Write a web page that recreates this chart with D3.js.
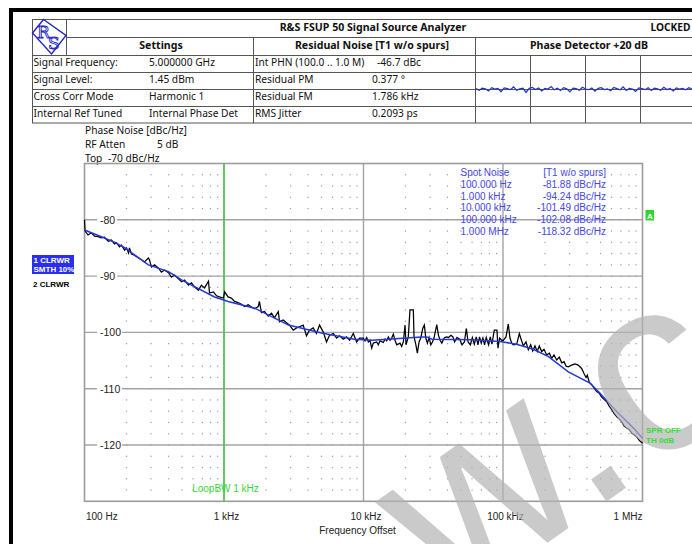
<!DOCTYPE html>
<html><head><meta charset="utf-8">
<script src="https://cdn.jsdelivr.net/npm/d3@7/dist/d3.min.js"></script>
<style>body{margin:0;background:#fff}svg{display:block}</style>
</head><body>
<script>
// ---------------- data ----------------
const freqTicks = [100, 1000, 10000, 100000, 1000000];
const freqTickLabels = ["100 Hz", "1 kHz", "10 kHz", "100 kHz", "1 MHz"];
const levelTicks = [-80, -90, -100, -110, -120];
const levelDomain = [-70, -130];

const settingsRows = [
  ["Signal Frequency:", "5.000000 GHz"],
  ["Signal Level:", "1.45 dBm"],
  ["Cross Corr Mode", "Harmonic 1"],
  ["Internal Ref Tuned", "Internal Phase Det"]
];
const residualRows = [
  ["Int PHN (100.0  ..  1.0 M)", "-46.7 dBc"],
  ["Residual PM", "0.377 \u00b0"],
  ["Residual FM", "1.786 kHz"],
  ["RMS Jitter", "0.2093 ps"]
];
const spotFreqLabels = ["100.000 Hz", "1.000 kHz", "10.000 kHz", "100.000 kHz", "1.000 MHz"];
const spotValues = [-81.88, -94.24, -101.49, -102.08, -118.32];

// trace 1 (black, raw) : [offset frequency Hz, dBc/Hz]
const traceRaw = [
 [100,-80.0],[101,-82.0],[106,-82.7],[112,-82.3],[118,-82.9],[125,-83.0],[132,-83.2],[139,-83.1],[148,-83.8],[156,-83.6],
 [164,-84.3],[170,-84.1],[178,-84.8],[184,-84.5],[194,-85.4],[200,-85.0],[207,-85.9],[210,-85.0],[217,-86.1],[228,-86.3],
 [244,-86.8],[256,-87.1],[269,-87.5],[287,-86.8],[292,-87.1],[302,-88.4],[318,-88.0],[339,-88.6],[356,-89.3],[374,-88.9],
 [400,-89.4],[420,-90.2],[442,-89.8],[472,-90.5],[496,-91.0],[521,-90.7],[556,-91.6],[585,-91.2],[614,-91.9],[656,-92.5],
 [689,-91.6],[725,-92.1],[774,-90.9],[787,-93.0],[840,-92.8],[884,-93.5],[928,-93.7],[990,-93.9],
 [1010,-92.8],[1070,-93.7],[1130,-93.9],[1190,-94.5],[1260,-94.7],[1335,-95.0],[1400,-95.4],[1490,-95.1],[1575,-95.5],[1655,-95.8],
 [1760,-95.4],[1795,-94.5],[1855,-96.5],[1950,-96.3],[2075,-97.1],[2190,-96.6],[2300,-97.4],[2450,-96.3],[2500,-98.1],[2655,-97.8],
 [2805,-98.3],[2950,-98.7],[3135,-99.6],[3310,-99.2],[3475,-99.0],[3695,-98.7],[3905,-100.6],[4100,-99.6],[4360,-99.2],[4600,-100.2],
 [4840,-98.7],[5140,-99.9],[5430,-101.7],[5710,-100.5],[6080,-100.2],[6420,-101.0],[6740,-100.6],[7160,-101.2],[7560,-100.8],[7950,-101.4],
 [8450,-100.2],[8930,-101.7],[9370,-101.0],
 [9970,-101.0],[10250,-101.5],[10540,-100.9],[10830,-101.7],[11130,-101.4],[11450,-102.8],[11760,-101.9],[12430,-101.7],[12770,-102.2],[13130,-101.5],
 [13870,-101.8],[14270,-101.2],[14670,-101.5],[15070,-100.8],[15490,-101.4],[15930,-101.0],[16360,-100.3],[16820,-101.4],[17300,-102.2],[18270,-101.9],
 [18790,-102.5],[19300,-101.7],[19850,-98.7],[20170,-102.2],[20950,-100.8],[21540,-96.0],[22760,-96.0],[23030,-100.8],[23690,-102.1],[24330,-103.7],
 [25020,-101.7],[25730,-101.0],[26580,-99.3],[27310,-98.7],[27960,-101.0],[28720,-101.9],[29540,-100.9],[30380,-102.2],[31210,-101.7],[32010,-101.0],
 [33510,-98.6],[34440,-100.5],[35410,-101.4],[36420,-101.9],[37880,-101.0],[39160,-100.8],[40690,-100.9],[42330,-100.5],[43760,-100.8],[44960,-101.7],
 [46820,-100.9],[48890,-101.2],[50860,-102.2],[52860,-101.7],[54620,-99.3],[56190,-101.7],[58330,-102.2],[60280,-100.9],[62280,-102.1],[64340,-100.8],
 [66150,-102.2],[67910,-100.8],[69820,-101.9],[71780,-101.0],[73760,-102.2],[75830,-100.9],[78820,-102.2],[81050,-100.8],[83340,-102.1],[86590,-99.6],
 [90540,-99.6],[92030,-102.8],[94580,-101.0],[97880,-101.4],
 [100500,-101.4],[105100,-100.8],[109100,-98.5],[112200,-101.0],[115400,-101.9],[118500,-102.2],[125400,-102.1],[130900,-100.2],[133900,-101.0],[139900,-102.4],
 [146200,-101.7],[151900,-103.1],[158000,-102.2],[163300,-103.3],[169500,-102.4],[176100,-103.4],[182000,-102.4],[189500,-103.4],[196800,-103.0],[205600,-104.0],
 [214700,-103.7],[223600,-104.6],[232000,-104.0],[242700,-104.9],[253300,-104.4],[263500,-105.4],[273800,-105.2],[283300,-106.0],[293900,-106.1],[310500,-105.8],
 [328100,-105.6],[346100,-105.8],[366100,-106.4],[380700,-107.3],[394000,-108.0],[402000,-107.6],[415700,-108.9],[432600,-109.3],[449600,-109.9],[469800,-110.5],
 [489200,-110.8],[510000,-111.5],[529800,-111.9],[553800,-112.3],[577800,-113.1],[602000,-113.7],[625100,-114.4],[654600,-115.0],[683100,-115.4],[710800,-115.9],
 [737400,-116.6],[771200,-117.0],[806000,-117.3],[838100,-117.9],[870500,-118.2],[910800,-118.6],[951000,-119.2],[1000000,-119.7]
];

// trace 1 smoothed (blue, SMTH 10%)
const traceSmooth = [
 [100,-81.8],[132,-83.0],[165,-84.0],[195,-85.0],[287,-88.0],[400,-89.2],[500,-90.7],[855,-93.7],[960,-94.1],[1070,-94.5],
 [1660,-95.7],[2900,-98.7],[5000,-100.1],[8600,-101.2],[11500,-101.4],[18000,-101.1],[26000,-100.8],[28500,-100.8],[31000,-101.2],[60000,-101.3],
 [95000,-101.6],[125000,-102.1],[165000,-103.0],[212000,-104.3],[294000,-107.0],[420000,-109.0],[496000,-110.8],[655000,-114.1],[862000,-117.0],[1000000,-118.8]
];

// phase detector mini display (relative deviation)
const phaseDet = [0.03,-0.07,0.05,0.01,-0.12,0.08,0.00,0.04,-0.16,0.06,0.02,-0.04,0.12,-0.08,0.01,0.05,-0.2,0.04,0.09,-0.03,
 0.06,-0.12,0.03,0.00,0.14,-0.05,0.04,-0.09,0.08,0.01,-0.17,0.05,0.02,-0.07,0.1,0.00,-0.04,0.06,-0.13,0.04,
 0.08,-0.03,0.01,-0.1,0.09,0.02,-0.05,0.12,-0.08,0.04,0.00,-0.14,0.06,0.02,-0.04,0.08,-0.09,0.05,0.01,-0.07,
 0.1,-0.03,0.04,-0.12,0.06,0.00,0.03,-0.05,0.08,-0.01];

const loopBW = 1000;

// ---------------- drawing ----------------
const W = 692, H = 544;
const HFONT = "'Noto Sans', 'DejaVu Sans', sans-serif";
const PFONT = "'Liberation Sans', Arial, sans-serif";
const svg = d3.select("body").append("svg").attr("width", W).attr("height", H);

// outer black frame
svg.append("rect").attr("x", 9).attr("y", 8).attr("width", W - 9).attr("height", 4).attr("fill", "#000");
svg.append("rect").attr("x", 9).attr("y", 8).attr("width", 4).attr("height", H - 8).attr("fill", "#000");

// header table
const hdr = svg.append("g").attr("stroke", "#555").attr("stroke-width", 1).attr("fill", "none");
hdr.append("rect").attr("x", 32.5).attr("y", 19.5).attr("width", 700).attr("height", 103.5);
[[66, 37, W], [32, 55, W], [32, 72, W], [32, 89, W], [32, 106, W]].forEach(([x1, y, x2]) =>
  hdr.append("line").attr("x1", x1).attr("x2", x2).attr("y1", y + 0.5).attr("y2", y + 0.5));
[[66, 19, 55], [253, 37, 123], [475, 37, 123], [530, 55, 123], [585, 55, 123], [640, 55, 123]].forEach(([x, y1, y2]) =>
  hdr.append("line").attr("x1", x + 0.5).attr("x2", x + 0.5).attr("y1", y1).attr("y2", y2));

// logo
const logo = svg.append("g");
logo.append("polygon").attr("points", "43.5,19.5 66,35.5 51.5,54 32.5,33").attr("fill", "none").attr("stroke", "#2424c8").attr("stroke-width", 1.4);
logo.append("text").attr("x", 37).attr("y", 38).text("R").attr("font-family", "'DejaVu Serif', serif").attr("font-size", 17).attr("fill", "none").attr("stroke", "#2424c8").attr("stroke-width", 0.9);
logo.append("text").attr("x", 48).attr("y", 49).text("S").attr("font-family", "'DejaVu Serif', serif").attr("font-size", 17).attr("fill", "none").attr("stroke", "#2424c8").attr("stroke-width", 0.9);

const ht = (x, y, s, o = {}) => svg.append("text").attr("x", x).attr("y", y).text(s)
  .attr("font-family", HFONT).attr("font-size", o.size || 10.2).attr("font-weight", o.bold ? "bold" : "normal")
  .attr("text-anchor", o.anchor || "start").attr("fill", o.fill || "#111");
ht(373, 30.5, "R&S FSUP 50 Signal Source Analyzer", {bold: true, anchor: "middle", size: 10.6});
ht(690.5, 30.5, "LOCKED", {bold: true, size: 10.2, anchor: "end"});
ht(161, 49, "Settings", {bold: true, anchor: "middle", size: 10.6});
ht(372, 49, "Residual Noise [T1 w/o spurs]", {bold: true, anchor: "middle", size: 10.6});
ht(589, 49, "Phase Detector +20 dB", {bold: true, anchor: "middle", size: 10.6});
const rowBase = [66, 83, 100, 117];
settingsRows.forEach((r, i) => { ht(33.5, rowBase[i], r[0]); ht(149, rowBase[i], r[1]); });
residualRows.forEach((r, i) => { ht(255, rowBase[i], r[0]); ht(i === 0 ? 377 : 372, rowBase[i], r[1]); });

// phase detector trace
const pdx = d3.scaleLinear().domain([0, phaseDet.length - 1]).range([476, 692]);
const pdy = d3.scaleLinear().domain([-1, 1]).range([106, 72]);
svg.append("path").datum(phaseDet).attr("fill", "none").attr("stroke", "#2233cc").attr("stroke-width", 1.2)
  .attr("d", d3.line().x((d, i) => pdx(i)).y(d => pdy(d)));

// texts above plot
ht(85, 134, "Phase Noise [dBc/Hz]");
ht(85, 148, "RF Atten");
ht(157, 148, "5 dB");
ht(85, 162, "Top");
ht(108, 162, "-70 dBc/Hz");

// plot scales
const x = d3.scaleLog().domain([freqTicks[0], freqTicks[freqTicks.length - 1]]).range([84.5, 642.5]);
const y = d3.scaleLinear().domain(levelDomain).range([163.5, 501.3]);
const plot = svg.append("g");

// minor dotted grid
const minorF = [];
freqTicks.slice(0, -1).forEach(d => { for (let k = 2; k <= 9; k++) minorF.push(d * k); });
const dotLevels = d3.range(levelDomain[0] - 2, levelDomain[1], -2);
const dots = [];
minorF.forEach(f => dotLevels.forEach(l => dots.push([f, l])));
plot.append("g").selectAll("rect").data(dots).join("rect")
  .attr("x", d => x(d[0]) - 0.6).attr("y", d => y(d[1]) - 0.6).attr("width", 1.2).attr("height", 1.2).attr("fill", "#9a9a9a");

// major grid
plot.append("g").selectAll("line").data(levelTicks).join("line")
  .attr("x1", x.range()[0]).attr("x2", x.range()[1]).attr("y1", d => y(d)).attr("y2", d => y(d))
  .attr("stroke", "#a3a3a3").attr("stroke-width", 1.4);
plot.append("g").selectAll("line").data(freqTicks.slice(1, -1)).join("line")
  .attr("x1", d => x(d)).attr("x2", d => x(d)).attr("y1", y.range()[0]).attr("y2", y.range()[1])
  .attr("stroke", "#a3a3a3").attr("stroke-width", 1.4);
plot.append("rect").attr("x", x.range()[0]).attr("y", y.range()[0])
  .attr("width", x.range()[1] - x.range()[0]).attr("height", y.range()[1] - y.range()[0])
  .attr("fill", "none").attr("stroke", "#9c9c9c").attr("stroke-width", 1.6);

// y labels with white background
const yl = plot.append("g").selectAll("g").data(levelTicks).join("g");
yl.append("rect").attr("x", 97).attr("y", d => y(d) - 5).attr("width", d => d <= -100 ? 25 : 20).attr("height", 10).attr("fill", "#fff");
yl.append("text").attr("x", 100).attr("y", d => y(d) + 3.8).text(d => d)
  .attr("font-family", PFONT).attr("font-size", 10.5).attr("fill", "#222");

// loop bandwidth line
plot.append("line").attr("x1", x(loopBW)).attr("x2", x(loopBW)).attr("y1", y.range()[0]).attr("y2", y.range()[1])
  .attr("stroke", "#33cc33").attr("stroke-width", 1.3);
plot.append("text").attr("x", x(loopBW) + 1.5).attr("y", 492).attr("text-anchor", "middle").text("LoopBW 1 kHz")
  .attr("font-family", PFONT).attr("font-size", 10).attr("fill", "#3ad33a");

// x tick labels
plot.append("g").selectAll("text").data(freqTicks).join("text")
  .attr("x", (d, i) => i === 0 ? x(d) + 1.5 : (i === freqTicks.length - 1 ? x(d) : x(d) + 2.5))
  .attr("y", 520)
  .attr("text-anchor", (d, i) => i === 0 ? "start" : (i === freqTicks.length - 1 ? "end" : "middle"))
  .text((d, i) => freqTickLabels[i])
  .attr("font-family", PFONT).attr("font-size", 10).attr("fill", "#222");
plot.append("text").attr("x", 357.5).attr("y", 534).attr("text-anchor", "middle").text("Frequency Offset")
  .attr("font-family", PFONT).attr("font-size", 10).attr("fill", "#222");

// spot noise table
const spotBase = [188, 199.7, 211.4, 223.1, 234.8];
const sc = "#4747e8";
plot.append("text").attr("x", 460.5).attr("y", 176).text("Spot Noise").attr("font-family", PFONT).attr("font-size", 10).attr("fill", sc);
plot.append("text").attr("x", 606).attr("y", 176).attr("text-anchor", "end").text("[T1 w/o spurs]").attr("font-family", PFONT).attr("font-size", 10).attr("fill", sc);
plot.append("g").selectAll("text").data(spotFreqLabels).join("text")
  .attr("x", 460.5).attr("y", (d, i) => spotBase[i]).text(d => d).attr("font-family", PFONT).attr("font-size", 10).attr("fill", sc);
plot.append("g").selectAll("text").data(spotValues).join("text")
  .attr("x", 606).attr("y", (d, i) => spotBase[i]).attr("text-anchor", "end").text(d => d.toFixed(2) + " dBc/Hz")
  .attr("font-family", PFONT).attr("font-size", 10).attr("fill", sc);

// watermark (light grey, semi-transparent)
svg.append("text").attr("x", 747).attr("y", 403).attr("transform", "rotate(-35,747,403)").attr("text-anchor", "end")
  .text("w.c").attr("font-family", PFONT).attr("font-size", 250)
  .attr("fill", "#b4b4b4").attr("opacity", 0.7);

// traces
const line = d3.line().x(d => x(d[0])).y(d => y(d[1]));
plot.append("path").datum(traceRaw).attr("fill", "none").attr("stroke", "#000").attr("stroke-width", 1.25).attr("d", line);
plot.append("path").datum(traceSmooth).attr("fill", "none").attr("stroke", "#2338d8").attr("stroke-width", 1.5).attr("d", line);

// trace labels left
svg.append("rect").attr("x", 32).attr("y", 255).attr("width", 42).attr("height", 19).attr("fill", "#2a2ef0");
svg.append("text").attr("x", 33.5).attr("y", 263).text("1 CLRWR").attr("font-family", PFONT).attr("font-weight", "bold").attr("font-size", 8).attr("fill", "#fff");
svg.append("text").attr("x", 33.5).attr("y", 272).text("SMTH 10%").attr("font-family", PFONT).attr("font-weight", "bold").attr("font-size", 8).attr("fill", "#fff");
svg.append("text").attr("x", 33).attr("y", 287).text("2 CLRWR").attr("font-family", PFONT).attr("font-weight", "bold").attr("font-size", 8).attr("fill", "#000");

// marker A & spur status
svg.append("rect").attr("x", 645.5).attr("y", 210).attr("width", 8.5).attr("height", 10.5).attr("fill", "#2fd62f");
svg.append("text").attr("x", 649.8).attr("y", 218.5).attr("text-anchor", "middle").text("A").attr("font-family", PFONT).attr("font-weight", "bold").attr("font-size", 8).attr("fill", "#fff");
svg.append("text").attr("x", 646).attr("y", 433).text("SPR OFF").attr("font-family", PFONT).attr("font-weight", "bold").attr("font-size", 8).attr("fill", "#33dd33");
svg.append("text").attr("x", 646).attr("y", 443).text("TH 0dB").attr("font-family", PFONT).attr("font-weight", "bold").attr("font-size", 8).attr("fill", "#33dd33");
</script>
</body></html>
